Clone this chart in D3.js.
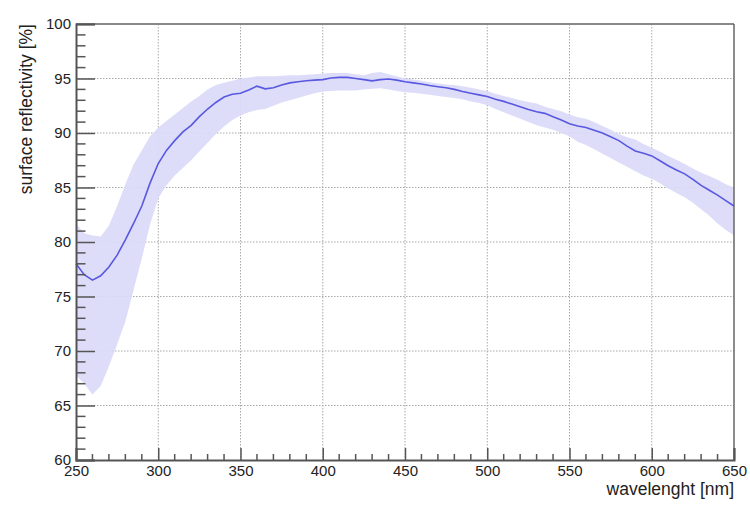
<!DOCTYPE html>
<html>
<head>
<meta charset="utf-8">
<script src="https://cdn.jsdelivr.net/npm/d3@7"></script>
<style>
  html, body { margin: 0; padding: 0; background: #fff; }
  svg { display: block; font-family: "Liberation Sans", Arial, Helvetica, sans-serif; }
</style>
</head>
<body>
<svg id="chart" width="750" height="508"></svg>
<script>
// ---- data ----
const wavelength = [250,255,260,265,270,275,280,285,290,295,300,305,310,315,320,325,330,335,340,345,350,355,360,365,370,375,380,385,390,395,400,405,410,415,420,425,430,435,440,445,450,455,460,465,470,475,480,485,490,495,500,505,510,515,520,525,530,535,540,545,550,555,560,565,570,575,580,585,590,595,600,605,610,615,620,625,630,635,640,645,650];
const meanReflectivity = [78.0,77.0,76.5,76.9,77.7,78.8,80.2,81.7,83.3,85.4,87.2,88.4,89.3,90.1,90.7,91.5,92.2,92.8,93.3,93.55,93.65,93.95,94.3,94.05,94.15,94.4,94.6,94.7,94.8,94.85,94.9,95.05,95.1,95.1,95.0,94.9,94.78,94.9,94.95,94.85,94.7,94.6,94.5,94.35,94.25,94.15,94.0,93.8,93.65,93.5,93.35,93.1,92.9,92.65,92.4,92.15,91.95,91.8,91.5,91.2,90.85,90.65,90.5,90.25,90.0,89.65,89.3,88.8,88.35,88.15,87.9,87.45,87.0,86.6,86.25,85.75,85.2,84.75,84.3,83.8,83.3];
const upperBand = [81.7,80.8,80.6,80.5,81.5,83.3,85.3,87.1,88.4,89.7,90.5,91.1,91.7,92.3,92.9,93.4,94.0,94.4,94.6,94.8,95.0,95.1,95.2,95.2,95.2,95.25,95.3,95.3,95.35,95.4,95.45,95.5,95.5,95.5,95.4,95.3,95.5,95.6,95.4,95.2,95.0,94.9,94.8,94.65,94.55,94.45,94.4,94.3,94.15,94.0,93.85,93.6,93.4,93.2,93.0,92.85,92.7,92.4,92.2,92.0,91.7,91.45,91.3,91.0,90.65,90.3,89.9,89.6,89.4,89.0,88.65,88.3,87.9,87.55,87.15,86.75,86.35,86.05,85.7,85.3,85.0];
const lowerBand = [67.8,67.0,66.0,66.8,68.6,70.6,72.7,75.6,78.5,81.6,84.0,85.2,86.1,86.8,87.5,88.3,89.1,89.9,90.6,91.2,91.6,91.9,92.1,92.2,92.5,92.8,93.0,93.2,93.45,93.65,93.8,93.85,93.9,93.9,93.9,94.0,94.05,94.1,94.0,93.85,93.75,93.7,93.6,93.5,93.4,93.3,93.2,93.1,92.9,92.75,92.55,92.2,91.9,91.6,91.3,91.0,90.7,90.5,90.3,90.0,89.7,89.2,88.9,88.5,88.1,87.7,87.3,86.9,86.5,86.1,85.8,85.4,84.9,84.5,84.1,83.6,83.0,82.4,81.7,81.1,80.6];
const xTickValues = [250,300,350,400,450,500,550,600,650];
const yTickValues = [60,65,70,75,80,85,90,95,100];
const xTitle = "wavelenght [nm]";
const yTitle = "surface reflectivity [%]";

// ---- layout ----
const svg = d3.select("#chart");
const L = 76, R = 734, T = 24, B = 460;
const x = d3.scaleLinear().domain([250, 650]).range([L, R]);
const y = d3.scaleLinear().domain([60, 100]).range([B, T]);

const rows = wavelength.map((w, i) => ({w, m: meanReflectivity[i], hi: upperBand[i], lo: lowerBand[i]}));

// grid
const grid = svg.append("g");
grid.selectAll("line.vx").data(xTickValues.slice(1, -1)).join("line")
  .attr("x1", d => x(d)).attr("x2", d => x(d)).attr("y1", T).attr("y2", B)
  .attr("stroke", "#a8a8a8").attr("stroke-width", 1).attr("stroke-dasharray", "1.5,1.5");
grid.selectAll("line.hy").data(yTickValues.slice(1, -1)).join("line")
  .attr("x1", L).attr("x2", R).attr("y1", d => y(d)).attr("y2", d => y(d))
  .attr("stroke", "#a8a8a8").attr("stroke-width", 1).attr("stroke-dasharray", "1.5,1.5");

// band
svg.append("path").datum(rows)
  .attr("d", d3.area().x(d => x(d.w)).y0(d => y(d.lo)).y1(d => y(d.hi)))
  .attr("fill", "#dadaf9").attr("fill-opacity", 0.92);

// mean line
svg.append("path").datum(rows)
  .attr("d", d3.line().x(d => x(d.w)).y(d => y(d.m)))
  .attr("fill", "none").attr("stroke", "#5858e0").attr("stroke-width", 1.6);

// frame (top & right)
svg.append("line").attr("x1", L).attr("x2", R).attr("y1", T).attr("y2", T).attr("stroke", "#888").attr("stroke-width", 2);
svg.append("line").attr("x1", R).attr("x2", R).attr("y1", T).attr("y2", B).attr("stroke", "#666").attr("stroke-width", 1.5);

// x axis (ticks inward)
const xAxis = d3.axisBottom(x).tickValues(xTickValues).tickSize(-12).tickPadding(5.5).tickFormat(d3.format("d"));
const gx = svg.append("g").attr("transform", `translate(0,${B})`).call(xAxis);
gx.select(".domain").attr("stroke", "#555").attr("stroke-width", 2);
gx.selectAll(".tick line").attr("stroke", "#555").attr("stroke-width", 1.5);
gx.selectAll(".tick text").attr("font-size", 15).attr("fill", "#222").attr("font-family", "Liberation Sans, Arial, sans-serif");
const xMinor = d3.range(250, 651, 10).filter(v => v % 50 !== 0);
svg.append("g").selectAll("line").data(xMinor).join("line")
  .attr("x1", d => x(d)).attr("x2", d => x(d)).attr("y1", B).attr("y2", B - 6)
  .attr("stroke", "#555").attr("stroke-width", 1.5);

// y axis (ticks inward)
const yAxis = d3.axisLeft(y).tickValues(yTickValues).tickSize(-19).tickPadding(5).tickFormat(d3.format("d"));
const gy = svg.append("g").attr("transform", `translate(${L},0)`).call(yAxis);
gy.select(".domain").attr("stroke", "#555").attr("stroke-width", 2);
gy.selectAll(".tick line").attr("stroke", "#555").attr("stroke-width", 1.5);
gy.selectAll(".tick text").attr("font-size", 15).attr("fill", "#222").attr("font-family", "Liberation Sans, Arial, sans-serif");
const yMinor = d3.range(60, 100.5, 1).filter(v => v % 5 !== 0);
svg.append("g").selectAll("line").data(yMinor).join("line")
  .attr("x1", L).attr("x2", L + 9.5).attr("y1", d => y(d)).attr("y2", d => y(d))
  .attr("stroke", "#555").attr("stroke-width", 1.5);

// titles
svg.append("text").attr("x", R).attr("y", 495).attr("text-anchor", "end")
  .attr("font-size", 17.5).attr("fill", "#222").text(xTitle);
svg.append("text").attr("transform", `translate(32,${T}) rotate(-90)`).attr("text-anchor", "end")
  .attr("font-size", 17.5).attr("fill", "#222").text(yTitle);
</script>
</body>
</html>
